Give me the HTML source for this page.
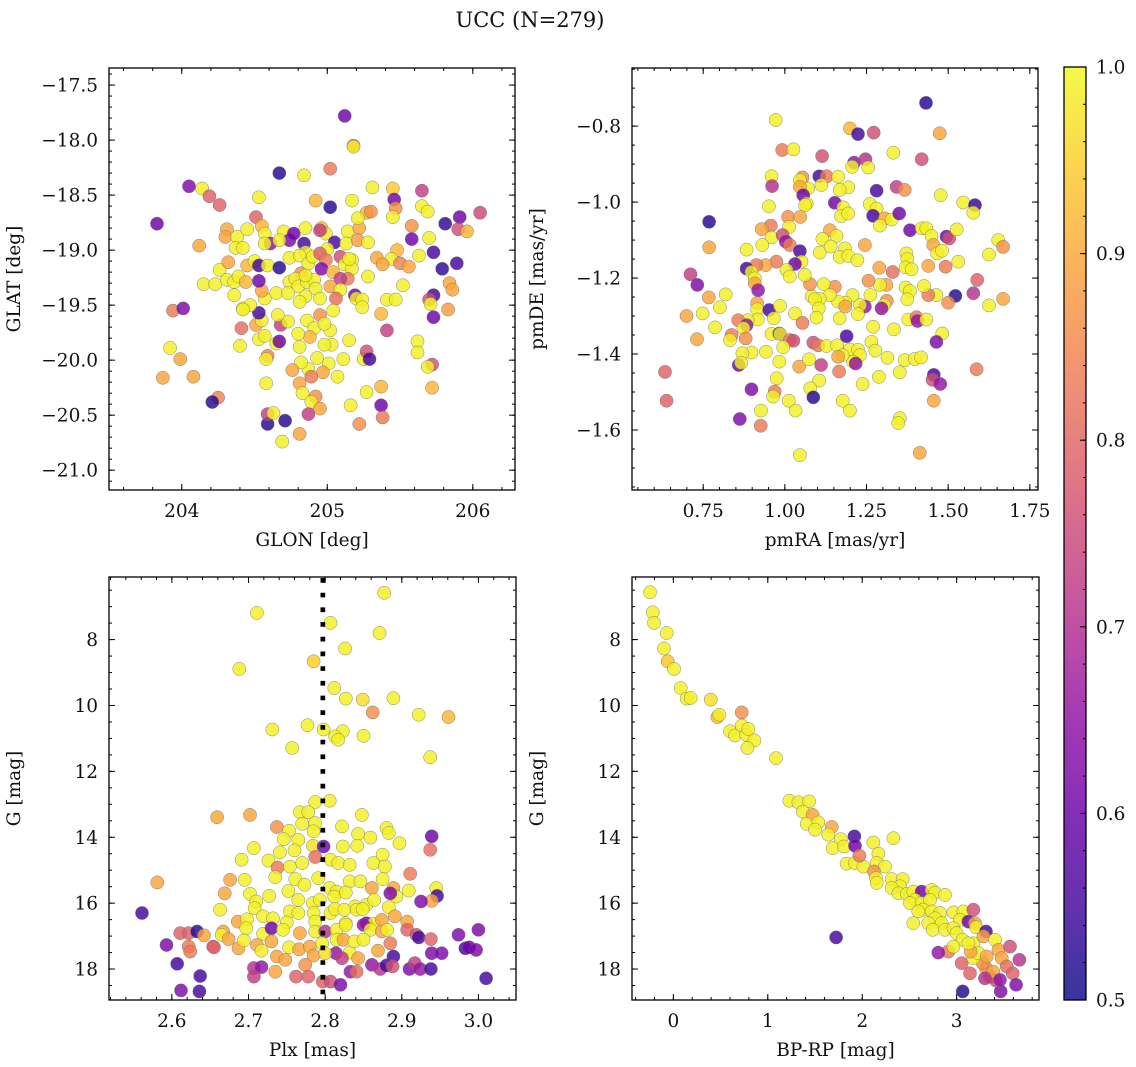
<!DOCTYPE html>
<html><head><meta charset="utf-8">
<style>
html,body{margin:0;padding:0;background:#fff;}
svg{display:block;font-family:"DejaVu Serif","Liberation Serif",serif;}
</style></head>
<body>
<svg id="fig" width="1136" height="1067" viewBox="0 0 1136 1067" xmlns="http://www.w3.org/2000/svg">
<rect width="1136" height="1067" fill="#fff"/>
<text x="530" y="27" font-size="21" text-anchor="middle" fill="#111">UCC (N=279)</text>
</svg>
<script>
// ---------- Panel 1: GLON / GLAT ----------
const glon = [205.12,205.18,205.18,204.67,204.84,205.02,204.05,204.14,204.19,204.26,204.53,204.92,205.02,205.17,205.31,205.45,205.46,205.47,205.45,205.65,205.65,205.69,205.91,206.05,205.81,205.90,205.96,203.83,204.12,204.51,204.31,204.30,204.38,204.45,204.37,204.42,204.55,204.57,204.61,204.57,204.70,204.74,204.67,204.77,204.85,204.84,204.85,204.96,204.99,205.05,205.00,205.14,205.13,205.22,205.27,205.30,205.21,205.21,205.28,205.58,205.58,205.70,205.73,205.63,205.48,205.44,205.50,205.56,205.34,205.38,205.79,205.89,205.84,205.86,205.73,205.70,205.71,205.83,205.73,205.28,205.52,205.41,205.47,205.37,205.41,205.62,205.62,205.72,205.69,205.72,205.37,205.27,205.37,205.38,205.22,205.16,205.15,205.25,205.27,205.29,205.11,205.07,205.03,204.98,205.01,204.97,204.93,204.87,204.89,204.82,204.76,204.81,204.83,204.92,204.89,204.95,204.81,204.69,204.71,204.59,204.59,204.63,204.87,204.58,204.59,204.58,204.40,204.53,204.57,204.65,204.67,204.41,204.51,204.55,204.68,204.73,204.53,204.66,204.42,204.47,204.57,204.65,204.55,204.53,204.15,204.23,204.26,204.31,204.36,204.39,204.44,204.36,204.42,204.32,204.45,204.50,204.53,204.59,204.67,204.74,204.81,204.82,204.87,204.90,204.95,204.99,204.96,205.04,205.09,205.12,205.17,205.17,205.14,205.09,205.02,205.09,205.06,205.19,205.20,205.24,205.24,204.74,204.78,204.80,204.86,204.91,204.92,204.95,204.85,204.81,204.73,204.85,204.95,205.04,204.86,204.91,205.02,204.88,204.80,204.81,204.98,203.92,203.99,203.87,204.08,203.94,204.01,204.25,204.21,204.95,205.15];
const glat = [-17.78,-18.05,-18.06,-18.30,-18.32,-18.26,-18.42,-18.44,-18.51,-18.59,-18.52,-18.55,-18.61,-18.55,-18.43,-18.44,-18.54,-18.62,-18.70,-18.46,-18.60,-18.65,-18.70,-18.66,-18.76,-18.81,-18.83,-18.76,-18.96,-18.70,-18.81,-18.88,-18.88,-18.81,-18.98,-18.98,-18.78,-18.85,-18.94,-18.94,-18.83,-18.91,-18.91,-18.85,-18.80,-18.94,-19.02,-18.80,-18.85,-18.93,-18.99,-18.83,-18.94,-18.80,-18.66,-18.65,-18.71,-18.91,-18.93,-18.78,-18.90,-18.89,-19.02,-19.05,-19.00,-19.08,-19.12,-19.15,-19.07,-19.13,-19.17,-19.12,-19.30,-19.36,-19.41,-19.45,-19.49,-19.54,-19.61,-19.24,-19.32,-19.45,-19.45,-19.58,-19.73,-19.83,-19.93,-20.04,-20.06,-20.25,-20.24,-20.29,-20.41,-20.52,-20.58,-20.41,-19.82,-19.99,-19.92,-19.99,-19.99,-20.15,-19.86,-19.86,-20.03,-20.11,-19.98,-20.08,-20.15,-20.02,-20.09,-20.21,-20.30,-20.33,-20.38,-20.44,-20.67,-20.74,-20.55,-20.58,-20.49,-20.48,-20.49,-20.21,-19.96,-19.99,-19.87,-19.81,-19.78,-19.85,-19.83,-19.71,-19.68,-19.64,-19.68,-19.65,-19.57,-19.59,-19.53,-19.50,-19.44,-19.39,-19.37,-19.28,-19.31,-19.31,-19.18,-19.27,-19.29,-19.24,-19.29,-19.41,-19.54,-19.11,-19.14,-19.10,-19.14,-19.14,-19.16,-19.07,-19.05,-19.21,-19.12,-19.06,-19.03,-19.09,-19.17,-19.20,-19.06,-19.13,-19.09,-19.17,-19.26,-19.26,-19.33,-19.36,-19.44,-19.41,-19.44,-19.45,-19.52,-19.29,-19.26,-19.33,-19.29,-19.27,-19.35,-19.44,-19.42,-19.47,-19.39,-19.23,-19.59,-19.55,-19.64,-19.71,-19.73,-19.79,-19.76,-19.88,-19.67,-19.89,-19.99,-20.16,-20.15,-19.55,-19.53,-20.34,-20.38,-18.82,-19.08];
const prob1 = [0.6,0.82,0.97,0.52,0.97,0.82,0.62,0.97,0.78,0.78,0.97,0.9,0.52,0.97,0.97,0.93,0.6,0.85,0.97,0.72,0.97,0.97,0.6,0.74,0.53,0.75,0.9,0.6,0.88,0.78,0.88,0.88,0.97,0.97,0.97,0.97,0.9,0.97,0.65,0.97,0.97,0.62,0.97,0.6,0.97,0.55,0.97,0.9,0.97,0.55,0.97,0.97,0.97,0.88,0.9,0.85,0.97,0.87,0.97,0.85,0.6,0.97,0.55,0.97,0.9,0.97,0.83,0.88,0.88,0.88,0.53,0.55,0.88,0.88,0.55,0.75,0.97,0.87,0.6,0.97,0.97,0.97,0.97,0.9,0.72,0.97,0.97,0.75,0.97,0.9,0.9,0.97,0.6,0.82,0.85,0.97,0.97,0.97,0.75,0.55,0.97,0.97,0.97,0.97,0.97,0.88,0.97,0.97,0.82,0.97,0.88,0.88,0.97,0.85,0.97,0.88,0.88,0.97,0.52,0.52,0.72,0.97,0.72,0.97,0.83,0.97,0.97,0.97,0.97,0.97,0.6,0.8,0.88,0.97,0.72,0.97,0.55,0.97,0.97,0.97,0.97,0.97,0.88,0.6,0.97,0.97,0.97,0.97,0.97,0.97,0.9,0.97,0.97,0.88,0.9,0.97,0.55,0.97,0.52,0.97,0.97,0.85,0.97,0.97,0.78,0.82,0.62,0.9,0.75,0.97,0.97,0.97,0.82,0.72,0.88,0.97,0.8,0.6,0.97,0.97,0.97,0.97,0.97,0.97,0.97,0.97,0.97,0.97,0.97,0.97,0.97,0.97,0.85,0.97,0.97,0.97,0.97,0.9,0.97,0.97,0.97,0.97,0.88,0.88,0.88,0.82,0.62,0.83,0.52,0.72,0.97,0.97];

// ---------- Panel 2: pmRA / pmDE ----------
const pmra = [1.432,0.972,1.199,1.224,1.272,1.474,0.992,1.026,1.114,1.332,1.419,1.212,1.206,1.247,1.255,0.959,0.961,1.054,1.046,1.105,1.128,1.163,1.112,1.071,1.046,1.056,1.194,1.168,1.281,1.342,1.367,1.477,1.546,1.582,1.577,0.951,1.153,1.067,1.062,1.179,1.172,1.194,1.260,1.281,1.270,1.306,1.327,1.350,1.291,0.768,1.010,1.047,1.013,0.957,0.929,0.959,0.993,1.003,1.015,0.931,0.883,0.768,1.046,1.138,1.115,1.158,1.107,1.140,1.184,1.245,1.168,1.194,1.222,1.383,1.419,1.433,1.449,1.495,1.503,1.526,1.454,1.466,1.481,1.372,1.375,1.370,1.388,1.439,1.492,1.531,1.653,1.668,1.625,1.589,1.577,1.522,1.668,1.625,1.500,1.464,1.439,1.426,1.370,1.383,1.375,1.330,1.289,1.311,1.291,1.256,1.262,1.312,1.304,1.296,1.245,1.230,1.224,1.207,1.185,1.163,1.185,1.168,1.153,1.119,1.138,1.107,1.082,1.092,1.104,1.097,1.077,1.061,1.051,1.031,1.005,1.015,0.974,0.941,0.913,0.883,0.898,0.908,0.908,0.918,0.711,0.732,0.767,0.819,0.801,0.748,0.699,0.786,0.731,0.915,0.915,0.952,0.985,1.031,1.054,0.966,0.917,0.886,0.857,0.883,0.873,0.837,0.832,0.880,0.959,0.983,0.985,1.015,1.026,0.995,0.942,0.898,0.870,0.859,0.866,0.983,1.044,1.074,1.087,1.102,1.128,1.160,1.189,1.199,1.224,1.230,1.209,1.217,1.177,1.163,1.111,1.166,1.105,1.078,1.087,0.975,0.969,0.964,0.898,1.012,1.033,0.927,0.926,0.862,1.177,1.199,1.238,1.288,1.270,1.265,1.277,1.314,1.334,1.378,1.403,1.406,1.433,1.482,1.464,1.367,1.398,1.417,1.352,1.456,1.452,1.476,1.456,1.352,1.347,1.587,0.633,0.638,1.413,1.046];
const pmde = [-0.739,-0.784,-0.806,-0.821,-0.817,-0.819,-0.863,-0.861,-0.879,-0.870,-0.887,-0.896,-0.907,-0.887,-0.909,-0.932,-0.958,-0.935,-0.942,-0.932,-0.932,-0.933,-0.955,-0.964,-0.960,-0.982,-0.961,-0.968,-0.970,-0.960,-0.968,-0.982,-1.001,-1.008,-1.028,-1.011,-1.002,-1.004,-1.008,-1.014,-1.037,-1.030,-1.005,-1.017,-1.036,-1.043,-1.046,-1.030,-1.062,-1.052,-1.039,-1.039,-1.065,-1.062,-1.071,-1.093,-1.087,-1.104,-1.113,-1.113,-1.125,-1.119,-1.129,-1.074,-1.097,-1.089,-1.133,-1.117,-1.122,-1.113,-1.144,-1.142,-1.153,-1.074,-1.069,-1.069,-1.089,-1.091,-1.096,-1.072,-1.113,-1.135,-1.128,-1.135,-1.150,-1.172,-1.177,-1.168,-1.170,-1.157,-1.100,-1.118,-1.138,-1.205,-1.240,-1.247,-1.255,-1.272,-1.265,-1.245,-1.245,-1.221,-1.225,-1.234,-1.256,-1.184,-1.173,-1.218,-1.218,-1.207,-1.245,-1.260,-1.271,-1.280,-1.275,-1.271,-1.295,-1.245,-1.265,-1.262,-1.275,-1.306,-1.223,-1.216,-1.245,-1.255,-1.248,-1.256,-1.280,-1.304,-1.216,-1.192,-1.157,-1.163,-1.179,-1.196,-1.157,-1.166,-1.166,-1.175,-1.184,-1.201,-1.214,-1.232,-1.190,-1.218,-1.251,-1.243,-1.277,-1.293,-1.300,-1.330,-1.361,-1.266,-1.282,-1.284,-1.273,-1.293,-1.318,-1.306,-1.309,-1.311,-1.311,-1.324,-1.332,-1.350,-1.363,-1.359,-1.347,-1.346,-1.347,-1.363,-1.365,-1.382,-1.394,-1.396,-1.398,-1.429,-1.423,-1.420,-1.433,-1.414,-1.370,-1.377,-1.379,-1.377,-1.353,-1.388,-1.389,-1.403,-1.420,-1.425,-1.403,-1.407,-1.429,-1.446,-1.470,-1.490,-1.514,-1.464,-1.499,-1.512,-1.493,-1.523,-1.549,-1.549,-1.589,-1.571,-1.523,-1.549,-1.479,-1.460,-1.328,-1.368,-1.391,-1.410,-1.335,-1.309,-1.303,-1.313,-1.309,-1.346,-1.368,-1.416,-1.413,-1.409,-1.448,-1.455,-1.468,-1.479,-1.523,-1.569,-1.582,-1.440,-1.447,-1.523,-1.660,-1.666];
const prob2 = [0.52,0.97,0.9,0.55,0.75,0.88,0.82,0.97,0.75,0.97,0.75,0.65,0.97,0.7,0.97,0.97,0.7,0.85,0.97,0.55,0.82,0.97,0.97,0.97,0.88,0.6,0.97,0.97,0.55,0.72,0.85,0.97,0.97,0.53,0.97,0.97,0.6,0.97,0.97,0.97,0.97,0.97,0.97,0.97,0.55,0.88,0.97,0.6,0.97,0.52,0.85,0.88,0.97,0.82,0.88,0.97,0.75,0.65,0.82,0.97,0.97,0.88,0.55,0.88,0.97,0.97,0.97,0.97,0.97,0.88,0.97,0.97,0.97,0.6,0.97,0.97,0.97,0.6,0.75,0.97,0.88,0.97,0.97,0.97,0.97,0.97,0.97,0.88,0.82,0.97,0.97,0.85,0.97,0.78,0.7,0.52,0.88,0.97,0.85,0.97,0.82,0.97,0.97,0.97,0.97,0.8,0.88,0.88,0.97,0.85,0.97,0.85,0.97,0.65,0.65,0.97,0.97,0.97,0.97,0.97,0.88,0.97,0.85,0.97,0.97,0.97,0.97,0.97,0.97,0.97,0.85,0.97,0.97,0.6,0.97,0.97,0.82,0.88,0.82,0.55,0.97,0.97,0.88,0.65,0.72,0.62,0.88,0.97,0.97,0.97,0.88,0.97,0.88,0.88,0.97,0.55,0.97,0.97,0.82,0.97,0.97,0.97,0.82,0.65,0.97,0.82,0.97,0.85,0.97,0.55,0.97,0.82,0.75,0.97,0.97,0.97,0.97,0.6,0.97,0.97,0.88,0.97,0.75,0.82,0.97,0.97,0.55,0.97,0.97,0.97,0.97,0.65,0.97,0.88,0.72,0.82,0.97,0.97,0.52,0.97,0.82,0.97,0.62,0.97,0.97,0.97,0.82,0.62,0.97,0.97,0.97,0.97,0.97,0.97,0.97,0.97,0.97,0.97,0.82,0.65,0.97,0.97,0.62,0.97,0.97,0.97,0.97,0.55,0.75,0.65,0.88,0.97,0.97,0.82,0.78,0.78,0.88,0.97];

// ---------- Panel 3: Plx / G ----------
const plx = [2.877,2.711,2.807,2.871,2.826,2.785,2.688,2.812,2.827,2.849,2.889,2.862,2.922,2.961,2.777,2.731,2.798,2.823,2.813,2.817,2.850,2.757,2.937,2.787,2.806,2.659,2.702,2.767,2.778,2.848,2.737,2.753,2.770,2.787,2.785,2.822,2.843,2.859,2.880,2.883,2.897,2.939,2.937,2.746,2.765,2.760,2.784,2.798,2.823,2.842,2.707,2.741,2.691,2.726,2.738,2.754,2.770,2.787,2.807,2.817,2.832,2.863,2.875,2.878,2.911,2.581,2.676,2.695,2.735,2.761,2.773,2.791,2.806,2.815,2.832,2.846,2.875,2.861,2.889,2.893,2.909,2.945,2.946,2.939,2.925,2.885,2.669,2.702,2.727,2.710,2.752,2.765,2.784,2.793,2.812,2.827,2.839,2.854,2.864,2.663,2.708,2.719,2.754,2.765,2.785,2.807,2.813,2.825,2.841,2.849,2.883,2.891,2.907,2.686,2.698,2.732,2.750,2.787,2.827,2.854,2.863,2.874,2.561,2.611,2.622,2.633,2.642,2.667,2.665,2.697,2.719,2.730,2.745,2.767,2.787,2.800,2.815,2.827,2.850,2.859,2.874,2.881,2.907,2.919,2.922,2.938,2.974,3.000,2.593,2.622,2.624,2.654,2.674,2.687,2.694,2.711,2.717,2.730,2.753,2.766,2.780,2.785,2.796,2.815,2.814,2.824,2.832,2.838,2.850,2.843,2.869,2.885,2.889,2.939,2.952,2.983,2.988,2.997,2.607,2.637,2.612,2.636,2.655,2.707,2.717,2.707,2.735,2.737,2.748,2.762,2.774,2.778,2.797,2.807,2.820,2.822,2.833,2.841,2.861,2.872,2.880,2.888,2.910,2.917,2.924,2.938,3.010,2.800];
const gmag3 = [6.58,7.19,7.49,7.80,8.27,8.66,8.89,9.47,9.79,9.82,9.78,10.21,10.28,10.35,10.60,10.73,10.73,10.78,10.94,11.04,10.92,11.29,11.57,12.93,12.89,13.39,13.32,13.24,13.24,13.32,13.69,13.80,13.59,13.57,13.82,13.67,13.90,14.01,13.72,13.87,14.18,13.97,14.38,14.06,14.08,14.40,14.26,14.28,14.28,14.26,14.33,14.46,14.68,14.71,14.92,14.89,14.78,14.60,14.68,14.78,14.84,14.78,14.53,14.89,15.11,15.37,15.29,15.29,15.21,15.27,15.44,15.24,15.54,15.65,15.34,15.34,15.27,15.54,15.54,15.80,15.62,15.54,15.78,15.93,15.95,15.70,15.70,15.72,15.78,15.95,15.63,15.90,16.00,15.90,15.80,15.68,16.10,16.05,15.90,16.20,16.15,16.40,16.25,16.30,16.30,16.30,16.18,16.20,16.20,16.18,16.12,16.40,16.56,16.56,16.49,16.46,16.58,16.56,16.61,16.61,16.63,16.51,16.30,16.91,16.91,16.86,16.98,16.86,16.96,16.76,16.93,16.76,16.81,16.91,16.86,16.86,16.81,16.66,16.66,16.81,16.86,16.81,16.81,16.96,17.04,17.09,16.96,16.81,17.27,17.32,17.47,17.32,17.09,17.37,17.13,17.27,17.44,17.16,17.34,17.40,17.32,17.59,17.22,17.11,17.52,17.11,17.50,17.16,17.11,17.67,17.44,17.22,17.62,17.52,17.52,17.37,17.34,17.42,17.84,18.21,18.65,18.68,17.34,17.97,17.94,18.23,18.08,17.62,17.72,18.23,17.87,18.23,18.38,18.38,18.48,17.67,18.08,18.08,17.87,18.00,17.89,17.92,18.00,17.82,18.00,18.00,18.28,17.52];
const prob3 = [0.97,0.97,0.97,0.97,0.97,0.93,0.97,0.97,0.97,0.95,0.97,0.85,0.97,0.9,0.97,0.97,0.97,0.97,0.97,0.97,0.97,0.97,0.97,0.97,0.97,0.88,0.88,0.97,0.97,0.97,0.85,0.97,0.97,0.97,0.97,0.97,0.97,0.97,0.97,0.97,0.97,0.6,0.8,0.97,0.97,0.97,0.95,0.6,0.97,0.97,0.97,0.97,0.97,0.97,0.82,0.97,0.97,0.8,0.97,0.97,0.97,0.97,0.97,0.97,0.82,0.88,0.88,0.97,0.97,0.97,0.97,0.97,0.97,0.97,0.97,0.97,0.97,0.88,0.88,0.97,0.97,0.97,0.55,0.88,0.62,0.62,0.88,0.97,0.97,0.97,0.97,0.97,0.97,0.97,0.97,0.97,0.97,0.97,0.97,0.97,0.97,0.97,0.97,0.97,0.97,0.97,0.97,0.97,0.97,0.97,0.97,0.88,0.88,0.88,0.97,0.97,0.97,0.97,0.97,0.6,0.97,0.88,0.55,0.78,0.78,0.52,0.88,0.88,0.97,0.97,0.97,0.6,0.97,0.88,0.97,0.7,0.97,0.97,0.65,0.97,0.88,0.97,0.78,0.75,0.55,0.78,0.62,0.62,0.62,0.82,0.82,0.78,0.88,0.88,0.97,0.88,0.97,0.88,0.97,0.88,0.88,0.88,0.97,0.97,0.65,0.88,0.97,0.97,0.97,0.88,0.88,0.82,0.55,0.62,0.62,0.55,0.6,0.62,0.55,0.55,0.62,0.55,0.78,0.7,0.65,0.72,0.88,0.88,0.88,0.78,0.85,0.78,0.78,0.75,0.62,0.72,0.65,0.8,0.65,0.7,0.55,0.75,0.62,0.72,0.65,0.55,0.55,0.95];

// ---------- Panel 4: BP-RP / G ----------
const bprp = [-0.247,-0.219,-0.205,-0.071,-0.099,-0.060,0.007,0.078,0.141,0.184,0.395,0.724,0.466,0.487,0.600,0.653,0.724,0.770,0.794,0.858,0.784,1.087,1.228,1.324,1.437,1.370,1.475,1.412,1.535,1.500,1.677,1.641,1.772,1.687,1.807,1.917,1.924,2.330,2.118,1.835,1.924,2.012,1.970,2.171,2.153,2.241,2.125,2.146,2.153,2.312,2.429,2.400,2.312,2.383,2.471,2.541,2.630,2.559,2.506,2.630,2.736,2.771,2.877,2.718,2.647,2.594,2.736,2.824,2.771,2.541,2.700,2.841,2.965,3.071,3.177,3.036,3.124,3.194,3.205,2.746,2.877,2.965,2.999,3.063,3.177,3.311,3.283,3.406,3.442,3.477,3.565,3.664,3.530,3.594,3.629,3.466,3.417,3.353,3.311,3.388,3.276,3.141,3.053,3.177,3.230,3.148,3.124,2.912,2.806,2.965,3.064,1.723,3.300,3.459,3.318];
const gmag4 = [6.56,7.17,7.49,7.80,8.27,8.66,8.89,9.47,9.79,9.77,9.82,10.21,10.35,10.28,10.78,10.91,10.61,10.89,10.71,11.06,11.29,11.60,12.89,12.94,12.91,13.22,13.32,13.59,13.55,13.77,13.69,13.92,14.06,14.33,14.28,13.97,14.26,14.03,14.16,14.80,14.78,14.89,14.56,14.50,14.78,14.89,15.04,15.24,15.39,15.27,15.27,15.49,15.54,15.70,15.72,15.65,15.65,15.90,16.00,16.00,15.60,15.68,15.75,15.90,16.20,16.25,16.25,16.30,16.46,16.61,16.61,16.61,16.28,16.25,16.20,16.51,16.56,16.61,16.73,16.81,16.81,16.76,16.91,17.11,17.22,16.86,17.01,17.11,17.42,17.67,17.32,17.72,17.92,18.13,18.48,18.68,18.35,18.23,17.97,18.08,17.82,18.13,17.82,17.67,17.52,17.47,17.22,17.47,17.50,17.32,18.68,17.04,18.28,18.33,17.62];
const prob4 = [0.97,0.97,0.97,0.97,0.97,0.92,0.97,0.97,0.97,0.97,0.95,0.85,0.9,0.97,0.97,0.97,0.97,0.97,0.97,0.97,0.97,0.97,0.97,0.97,0.97,0.97,0.88,0.97,0.97,0.97,0.88,0.97,0.97,0.97,0.97,0.55,0.6,0.97,0.97,0.97,0.97,0.97,0.82,0.97,0.97,0.97,0.85,0.97,0.97,0.97,0.97,0.97,0.97,0.97,0.97,0.97,0.6,0.97,0.97,0.97,0.97,0.97,0.97,0.97,0.97,0.97,0.97,0.97,0.97,0.97,0.97,0.97,0.97,0.97,0.75,0.97,0.6,0.88,0.97,0.97,0.97,0.97,0.97,0.97,0.97,0.55,0.88,0.97,0.88,0.88,0.75,0.7,0.8,0.78,0.62,0.62,0.75,0.75,0.85,0.88,0.85,0.78,0.78,0.97,0.97,0.88,0.97,0.82,0.65,0.97,0.52,0.55,0.7,0.65,0.88];

// ---------- Colorbar ----------
const cbarTicks = [0.5,0.6,0.7,0.8,0.9,1.0];
const cbarLabels = ["0.5","0.6","0.7","0.8","0.9","1.0"];

const NS = "http://www.w3.org/2000/svg";
const svg = document.getElementById('fig');
function mk(tag, attrs, parent){ const e=document.createElementNS(NS,tag); for(const k in attrs) e.setAttribute(k,attrs[k]); (parent||svg).appendChild(e); return e; }

const plasma = [[13,8,135],[65,4,157],[106,0,168],[143,13,164],[177,42,144],[204,71,120],[225,100,98],[242,132,75],[252,166,54],[252,206,37],[240,249,33]];
function cmapT(t){
  t=Math.max(0,Math.min(1,t));
  const p=t*10, i=Math.min(9,Math.floor(p)), f=p-i;
  const a=plasma[i], b=plasma[i+1];
  return 'rgb('+[0,1,2].map(k=>Math.round(a[k]+(b[k]-a[k])*f)).join(',')+')';
}
const cmapPts = v => cmapT((v-0.5)/0.48);
const cmap = v => cmapT((v-0.5)/0.5);
function fmt(v,d){ const s=Math.abs(v).toFixed(d); return (v<-1e-9?'\u2212':'')+s; }
const FS = 18.5;

function panel(name, box, xd, yd, xt, xdec, xminor, yt, ydec, yminor, xlabel, ylabel, xs, ys, cs){
  const g = mk('g',{});
  
  
  const sx = v => box.x0 + (v - xd[0])/(xd[1]-xd[0])*(box.x1-box.x0);
  const sy = v => box.y0 + (v - yd[0])/(yd[1]-yd[0])*(box.y1-box.y0);
  const clipId = name+'-clip';
  const cp = mk('clipPath',{id:clipId},g);
  mk('rect',{x:box.x0,y:box.y0,width:box.x1-box.x0,height:box.y1-box.y0},cp);
  const pts = mk('g',{'clip-path':'url(#'+clipId+')'},g);
  
  
  for(let i=0;i<xs.length;i++){
    const c = mk('circle',{cx:sx(xs[i]).toFixed(1),cy:sy(ys[i]).toFixed(1),r:6.6,fill:cmapPts(cs[i]),'fill-opacity':0.82,stroke:'#6b6b6b','stroke-width':0.5,'stroke-opacity':0.8},pts);
    
    
  }
  const tk = mk('g',{stroke:'#000','stroke-width':1},g);
  const inX = v => v>=Math.min(...xd)-1e-9 && v<=Math.max(...xd)+1e-9;
  const inY = v => v>=Math.min(...yd)-1e-9 && v<=Math.max(...yd)+1e-9;
  const lo=Math.min(...xd), hi=Math.max(...xd);
  for(let v=Math.ceil(lo/xminor)*xminor; v<=hi; v+=xminor){
    const x=sx(v);
    mk('line',{x1:x,x2:x,y1:box.y1,y2:box.y1-3},tk); mk('line',{x1:x,x2:x,y1:box.y0,y2:box.y0+3},tk);
  }
  const ylo=Math.min(...yd), yhi=Math.max(...yd);
  for(let v=Math.ceil(ylo/yminor)*yminor; v<=yhi; v+=yminor){
    const y=sy(v);
    mk('line',{x1:box.x0,x2:box.x0+3,y1:y,y2:y},tk); mk('line',{x1:box.x1,x2:box.x1-3,y1:y,y2:y},tk);
  }
  xt.forEach(v=>{ if(!inX(v)) return; const x=sx(v);
    mk('line',{x1:x,x2:x,y1:box.y1,y2:box.y1-6},tk); mk('line',{x1:x,x2:x,y1:box.y0,y2:box.y0+6},tk);
    const t=mk('text',{x:x,y:box.y1+27,'font-size':FS,'text-anchor':'middle',fill:'#111'},g); t.textContent=fmt(v,xdec);
    
    
  });
  yt.forEach(v=>{ if(!inY(v)) return; const y=sy(v);
    mk('line',{x1:box.x0,x2:box.x0+6,y1:y,y2:y},tk); mk('line',{x1:box.x1,x2:box.x1-6,y1:y,y2:y},tk);
    const t=mk('text',{x:box.x0-11,y:y+6.5,'font-size':FS,'text-anchor':'end',fill:'#111'},g); t.textContent=fmt(v,ydec);
    
    
  });
  const fr = mk('rect',{x:box.x0,y:box.y0,width:box.x1-box.x0,height:box.y1-box.y0,fill:'none',stroke:'#000','stroke-width':1.3},g);
  
  
  const xl = mk('text',{x:(box.x0+box.x1)/2,y:box.y1+56,'font-size':FS,'text-anchor':'middle',fill:'#111'},g); xl.textContent=xlabel;
  
  
  const lx = box.x0-89, ly=(box.y0+box.y1)/2;
  const yl = mk('text',{x:lx,y:ly,'font-size':FS,'text-anchor':'middle',fill:'#111',transform:'rotate(-90 '+lx+' '+ly+')'},g); yl.textContent=ylabel;
  
  
  return {sx,sy,g};
}

panel('panel-glon-glat',{x0:109,x1:515,y0:68,y1:490},[203.50,206.29],[-17.345,-21.18],
  [204,205,206],0,0.2,[-17.5,-18,-18.5,-19,-19.5,-20,-20.5,-21],1,0.1,'GLON [deg]','GLAT [deg]',glon,glat,prob1);
panel('panel-pm',{x0:632,x1:1038,y0:68,y1:490},[0.532,1.775],[-0.647,-1.758],
  [0.75,1.0,1.25,1.5,1.75],2,0.05,[-0.8,-1.0,-1.2,-1.4,-1.6],1,0.05,'pmRA [mas/yr]','pmDE [mas/yr]',pmra,pmde,prob2);
const p3 = panel('panel-plx-g',{x0:109,x1:516,y0:577,y1:1000},[2.518,3.049],[6.10,18.94],
  [2.6,2.7,2.8,2.9,3.0],1,0.02,[8,10,12,14,16,18],0,0.5,'Plx [mas]','G [mag]',plx,gmag3,prob3);
const plxLine = 2.797;
const dl = mk('line',{x1:p3.sx(plxLine),x2:p3.sx(plxLine),y1:578,y2:1000,stroke:'#000','stroke-width':4.7,'stroke-dasharray':'4.7 10'},p3.g);


panel('panel-cmd',{x0:632,x1:1039,y0:577,y1:1000},[-0.438,3.872],[6.10,18.94],
  [0,1,2,3],0,0.2,[8,10,12,14,16,18],0,0.5,'BP-RP [mag]','G [mag]',bprp,gmag4,prob4);

const cb = mk('g',{});


const cbx0=1064, cbx1=1086, cby0=67, cby1=1000;
const csy = v => cby1 - (v-0.5)/0.5*(cby1-cby0);
const defs = mk('defs',{},cb);
const lg = mk('linearGradient',{id:'cbgrad',x1:0,y1:1,x2:0,y2:0},defs);
for(let i=0;i<=20;i++){ mk('stop',{offset:(i/20),'stop-color':cmap(0.5+i/40),'stop-opacity':0.82},lg); }
mk('rect',{x:cbx0,y:cby0,width:cbx1-cbx0,height:cby1-cby0,fill:'url(#cbgrad)'},cb);
for(let v=0.5; v<=1.0001; v+=0.02){ const y=csy(v); mk('line',{x1:cbx1,x2:cbx1-3,y1:y,y2:y,stroke:'#000','stroke-width':1},cb); }
cbarTicks.forEach((v,i)=>{ const y=csy(v);
  mk('line',{x1:cbx1,x2:cbx1-6,y1:y,y2:y,stroke:'#000','stroke-width':1},cb);
  const t=mk('text',{x:cbx1+10,y:y+6.5,'font-size':FS,fill:'#111'},cb); t.textContent=cbarLabels[i];
  
  
});
mk('rect',{x:cbx0,y:cby0,width:cbx1-cbx0,height:cby1-cby0,fill:'none',stroke:'#000','stroke-width':1.3},cb);
</script>
</body></html>
